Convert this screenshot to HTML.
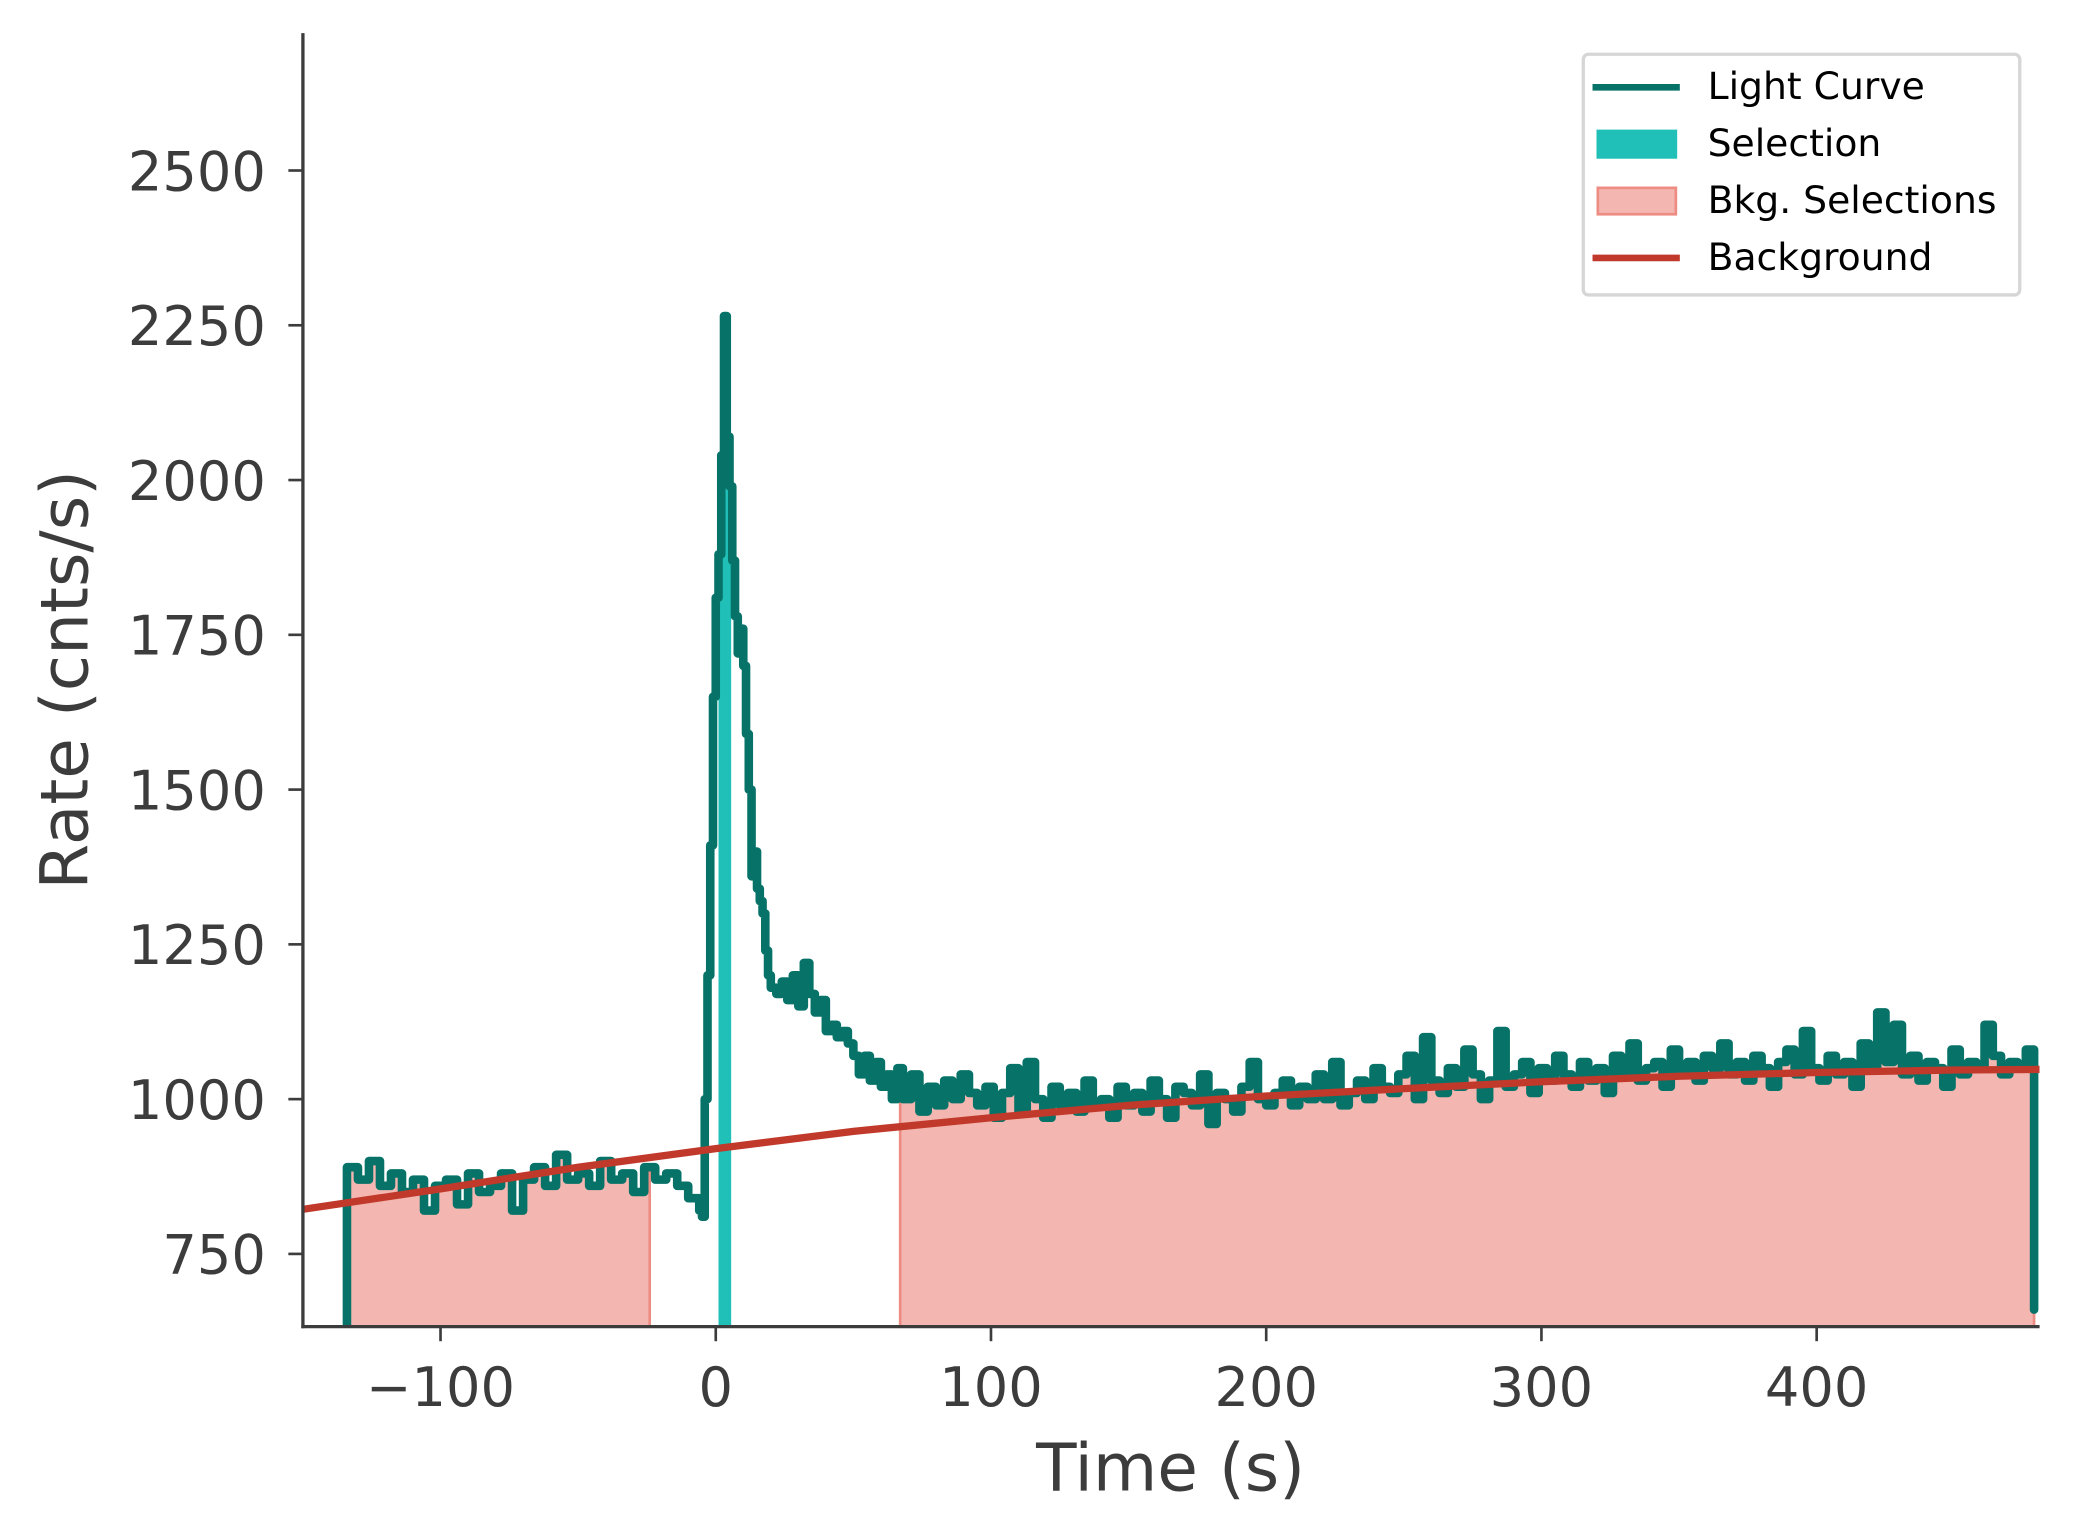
<!DOCTYPE html>
<html><head><meta charset="utf-8"><style>
html,body{margin:0;padding:0;background:#fff;}
svg{display:block;}
text{font-family:"DejaVu Sans","Liberation Sans",sans-serif;}
</style></head><body>
<svg id="chart" width="2074" height="1540" viewBox="0 0 1568 1164.3" xmlns="http://www.w3.org/2000/svg">
<defs>
<clipPath id="plotClip"><rect x="229" y="25" width="1313" height="978"/></clipPath>
</defs>
<g id="fills" clip-path="url(#plotClip)"></g>
<g id="lines" clip-path="url(#plotClip)"></g>
<g id="axes"></g>
<g id="legend">
<rect x="1197" y="41" width="330" height="182" rx="4" fill="#fff" stroke="#d6d6d6" stroke-width="2.5"/>
<line x1="1204" y1="66" x2="1270" y2="66" stroke="#077368" stroke-width="5"/>
<text x="1291" y="75" font-size="28.5" fill="#000">Light Curve</text>
<rect x="1207" y="98" width="61" height="22" fill="#20c0b8"/>
<text x="1291" y="118" font-size="28.5" fill="#000">Selection</text>
<rect x="1208" y="142" width="59" height="20" fill="#f4b6b0" stroke="#ec8c82" stroke-width="2"/>
<text x="1291" y="161" font-size="28.5" fill="#000">Bkg. Selections</text>
<line x1="1204" y1="195" x2="1270" y2="195" stroke="#c0392b" stroke-width="5"/>
<text x="1291" y="204" font-size="28.5" fill="#000">Background</text>
</g>
</svg>
<script>
// ---- data ----
const preStart = -134, preWidth = 4;
const preRates = [890,870,900,860,880,850,870,820,860,870,830,880,850,860,880,820,870,890,860,910,870,880,860,900,870,880,850,890,870,880,860,840];
const peakStart = -6, peakWidth = 1;
const peakRates = [820,810,1000,1200,1410,1650,1810,1880,2040,2265,2070,1990,1870,1780,1720,1760,1700,1590,1500,1360,1400,1340,1320,1300,1240,1200];
const decayStart = 20, decayWidth = 2;
const decayRates = [1180,1170,1190,1160,1200,1150,1220,1170,1140,1160,1110,1120,1100,1110,1090,1070,1040,1070,1030,1060,1020,1040,1000,1050];
const tailStart = 68, tailWidth = 3;
const tailRates = [1000,1040,980,1020,990,1030,1000,1040,1010,990,
1020,970,1010,1050,980,1060,1000,970,1020,990,
1010,980,1030,990,1000,970,1020,990,1010,980,
1030,1000,970,1020,1010,990,1040,960,1010,1000,
980,1020,1060,1000,990,1010,1030,990,1020,1000,
1040,1000,1060,990,1010,1030,1000,1050,1020,1010,
1040,1070,1000,1100,1030,1010,1050,1020,1080,1040,
1000,1030,1110,1020,1040,1060,1010,1050,1030,1070,
1040,1020,1060,1030,1050,1010,1070,1040,1090,1030,
1050,1060,1020,1080,1040,1060,1030,1070,1050,1090,
1040,1060,1030,1070,1050,1020,1060,1080,1040,1110,
1050,1030,1070,1040,1060,1020,1090,1050,1140,1060,
1120,1040,1070,1030,1060,1050,1020,1080,1040,1060,
1050,1120,1070,1040,1060,1050,1080];
const endRate = 660;
const bgTimes = [-150,-100,-50,0,50,100,150,200,250,300,350,400,450,481];
const bgRates = [822,855,890,920,948,970,990,1005,1017,1028,1037,1043,1047,1048];
const selectionRange = [1, 5.6];
const bkgRanges = [[-133,-24],[67,479]];
const xTicks = [-100,0,100,200,300,400];
const yTicks = [750,1000,1250,1500,1750,2000,2250,2500];

// ---- scales ----
const X0=229, X1=1542, Y0=1003, Y1=25;
const xMin=-150, xMax=481, yMin=632.5, yMax=2722;
const xs = t => X0 + (t - xMin) / (xMax - xMin) * (X1 - X0);
const ys = v => Y0 - (v - yMin) / (yMax - yMin) * (Y0 - Y1);
const NS = "http://www.w3.org/2000/svg";
function mk(tag, attrs, parent){const e=document.createElementNS(NS,tag);for(const k in attrs)e.setAttribute(k,attrs[k]);parent.appendChild(e);return e;}

const bins=[];
function addSeg(start,w,arr){arr.forEach((v,i)=>bins.push([start+i*w,start+(i+1)*w,v]));}
addSeg(preStart,preWidth,preRates);
addSeg(peakStart,peakWidth,peakRates);
addSeg(decayStart,decayWidth,decayRates);
addSeg(tailStart,tailWidth,tailRates);
const lastT = bins[bins.length-1][1];
function rateAt(t){for(const b of bins){if(t>=b[0]&&t<b[1])return b[2];}return bins[bins.length-1][2];}

let d = `M${xs(preStart)},${ys(yMin)}`;
bins.forEach(b=>{d+=` L${xs(b[0])},${ys(b[2])} L${xs(b[1])},${ys(b[2])}`;});
d += ` L${xs(lastT)},${ys(endRate)}`;
const area = d + ` L${xs(lastT)},${ys(yMin)} Z`;

const fills=document.getElementById('fills');
const lines=document.getElementById('lines');
const defs=document.querySelector('defs');
bkgRanges.forEach((r,i)=>{
  const cp=mk('clipPath',{id:'bk'+i},defs);
  mk('rect',{x:xs(r[0]),y:Y1,width:xs(r[1])-xs(r[0]),height:Y0-Y1},cp);
  const p=mk('path',{d:area,fill:'#f4b6b0','clip-path':`url(#bk${i})`},fills);
  
  
  r.forEach(t=>{
    const e=mk('line',{x1:xs(t),x2:xs(t),y1:Y0,y2:ys(rateAt(t)),stroke:'#ec8c82','stroke-width':2},fills);
    
    
  });
});
{
  const cp=mk('clipPath',{id:'sel'},defs);
  mk('rect',{x:xs(selectionRange[0]),y:Y1,width:xs(selectionRange[1])-xs(selectionRange[0]),height:Y0-Y1},cp);
  const p=mk('path',{d:area,fill:'#20c0b8','clip-path':'url(#sel)'},fills);
  
  
}
const lc=mk('path',{d:d,fill:'none',stroke:'#077368','stroke-width':6.5,'stroke-linejoin':'round','stroke-linecap':'round'},lines);


let bd='';
bgTimes.forEach((t,i)=>{bd+=(i?' L':'M')+xs(t)+','+ys(bgRates[i]);});
const bg=mk('path',{d:bd,fill:'none',stroke:'#c0392b','stroke-width':5.5},lines);



const ax=document.getElementById('axes');
const ls=mk('line',{x1:X0,x2:X0,y1:Y1,y2:Y0+1.2,stroke:'#3c3c3c','stroke-width':2.5},ax);


const bs=mk('line',{x1:X0-1.2,x2:X1,y1:Y0,y2:Y0,stroke:'#3c3c3c','stroke-width':2.5},ax);


xTicks.forEach(t=>{
  const tk=mk('line',{x1:xs(t),x2:xs(t),y1:Y0,y2:Y0+11,stroke:'#3c3c3c','stroke-width':2},ax);
  
  
  const tx=mk('text',{x:xs(t),y:1063,'font-size':41,fill:'#3c3c3c','text-anchor':'middle'},ax);
  tx.textContent = t<0 ? '\u2212'+Math.abs(t) : String(t);
  
  
});
yTicks.forEach(v=>{
  const tk=mk('line',{x1:X0-11,x2:X0,y1:ys(v),y2:ys(v),stroke:'#3c3c3c','stroke-width':2},ax);
  
  
  const tx=mk('text',{x:201,y:ys(v)+15,'font-size':41,fill:'#3c3c3c','text-anchor':'end'},ax);
  tx.textContent=String(v);
  
  
});
const xl=mk('text',{x:885,y:1127,'font-size':50,fill:'#3c3c3c','text-anchor':'middle'},ax);
xl.textContent='Time (s)';


const yl=mk('text',{x:0,y:0,'font-size':50,fill:'#3c3c3c','text-anchor':'middle',transform:'translate(66,514) rotate(-90)'},ax);
yl.textContent='Rate (cnts/s)';


</script>
</body></html>
